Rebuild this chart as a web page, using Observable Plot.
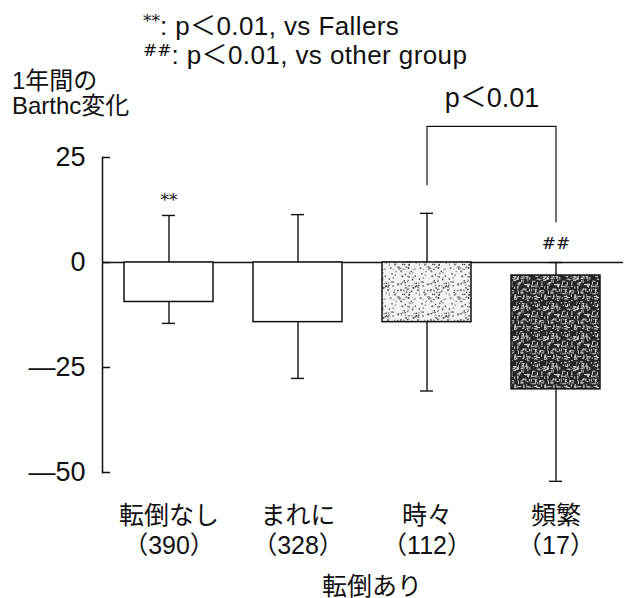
<!DOCTYPE html>
<html>
<head>
<meta charset="utf-8">
<script src="https://cdn.jsdelivr.net/npm/d3@7"></script>
<script src="https://cdn.jsdelivr.net/npm/@observablehq/plot@0.6"></script>
<style>
  html, body { margin: 0; padding: 0; background: #fff; }
  #wrap { position: relative; width: 633px; height: 598px; font-family: 'Liberation Sans', 'Noto Sans CJK JP', sans-serif; color: #111; }
  #wrap svg { position: absolute; left: 0; top: 0; }
  .note { position: absolute; left: 143px; font-size: 26px; white-space: nowrap; line-height: 28px; letter-spacing: 0.4px; }
  .note sup { font-size: 17px; vertical-align: 8px; letter-spacing: 0px; font-family: 'DejaVu Serif', serif; }
  #ylab { position: absolute; left: 12px; top: 68px; font-size: 24px; line-height: 25px; white-space: nowrap; }
</style>
</head>
<body>
<div id="wrap">
  <div class="note" style="top:7px"><sup>**</sup>: p＜0.01, vs Fallers</div>
  <div class="note" style="top:36px"><sup>##</sup>: p＜0.01, vs other group</div>
  <div id="ylab">1年間の<br>Barthc変化</div>
</div>
<script>
// ---- data ----
const categories = ["転倒なし", "まれに", "時々", "頻繁"];
const counts = [390, 328, 112, 17];
const barTop = [0, 0, 0, -3.1];                 // bar upper edge
const barBottom = [-9.4, -14.2, -14.2, -30.2];  // bar lower edge
const errHigh = [11.2, 11.4, 11.7, 0];
const errLow = [-14.5, -27.6, -30.6, -52.1];
const sigMarks = ["**", "", "", "##"];
const sigY = [14.8, null, null, 4.5];
const yTicks = [25, 0, -25, -50];
const yDomain = [-50, 25];
const bracketCats = ["時々", "頻繁"];
const bracketFrom = [18.3, 9.4];
const bracketTopY = 32.4;
const bracketText = "p＜0.01";
const bracketTextY = 39;
const xAxisTitle = "転倒あり";

// ---- styles (not data) ----
const fills = ["white", "white", "url(#stipple)", "url(#dense)"];

const rows = categories.map((c, i) => ({
  cat: c, n: counts[i], top: barTop[i], bottom: barBottom[i],
  hi: errHigh[i], lo: errLow[i], sig: sigMarks[i], sigY: sigY[i], fill: fills[i]
}));
const bracketRows = bracketCats.map((c, i) => ({cat: c, from: bracketFrom[i], to: bracketTopY}));

const W = 633, H = 598;
const margins = {marginTop: 157, marginBottom: 126, marginLeft: 102, marginRight: 10};
const xOpts = {domain: categories, paddingInner: 0.31, paddingOuter: 0.16};
const xs = Plot.scale({x: {...xOpts, type: "band", range: [margins.marginLeft, W - margins.marginRight]}});
const halfGap = (xs.apply(bracketCats[1]) - xs.apply(bracketCats[0])) / 2;

const plot = Plot.plot({
  width: W, height: H, ...margins,
  style: {fontFamily: "'Liberation Sans', 'Noto Sans CJK JP', sans-serif", background: "white", color: "#111"},
  x: {...xOpts, label: null},
  y: {domain: yDomain, label: null},
  color: {type: "identity"},
  marks: [
    Plot.frame({anchor: "left", strokeWidth: 1.5}),
    // inward tick marks
    Plot.axisY({ticks: yTicks, tickSize: 8, dx: 8, strokeWidth: 1.5, tickFormat: () => "", label: null}),
    // tick labels
    Plot.axisY({ticks: yTicks, tickSize: 0, tickPadding: 17, fontSize: 27,
      tickFormat: d => d < 0 ? "—" + Math.abs(d) : String(d), label: null}),
    Plot.axisX({tickSize: 0, tickPadding: 30, fontSize: 25, lineHeight: 1.2,
      tickFormat: (d) => d + "\n（" + counts[categories.indexOf(d)] + "）",
      label: xAxisTitle, labelAnchor: "center", labelArrow: "none", labelOffset: 122}),
    Plot.ruleX(rows, {x: "cat", y1: "lo", y2: "hi", strokeWidth: 1.4}),
    Plot.tickY(rows, {x: "cat", y: "hi", insetLeft: 38, insetRight: 38, strokeWidth: 1.4}),
    Plot.tickY(rows, {x: "cat", y: "lo", insetLeft: 38, insetRight: 38, strokeWidth: 1.4}),
    Plot.ruleY([0], {strokeWidth: 1.5}),
    Plot.barY(rows, {x: "cat", y1: "top", y2: "bottom", fill: "fill", stroke: "#111", strokeWidth: 1.5}),
    Plot.text(rows.filter(d => d.sig), {x: "cat", y: "sigY", text: "sig", fontSize: 17, fontFamily: "'DejaVu Serif', serif"}),
    Plot.ruleX(bracketRows, {x: "cat", y1: "from", y2: "to", strokeWidth: 1.2}),
    Plot.link([bracketTopY], {x1: () => bracketCats[0], x2: () => bracketCats[1], y1: d => d, y2: d => d, strokeWidth: 1.2}),
    Plot.text([bracketText], {x: () => bracketCats[0], y: () => bracketTextY, text: d => d, dx: halfGap, fontSize: 27})
  ]
});

// nudge the x-axis title slightly right, as in the reference (keep Plot's own transform)
const xl = plot.querySelector('[aria-label="x-axis label"]');
if (xl) xl.setAttribute("transform", "translate(9,0) " + (xl.getAttribute("transform") || ""));

// texture patterns (decoration only, deterministic hash)
const h = (i, k) => { const v = Math.sin(i * 12.9898 + k * 78.233) * 43758.5453; return v - Math.floor(v); };
let stip = "", dense = "";
for (let i = 0; i < 90; i++) {
  stip += `<rect x="${(h(i,1)*30).toFixed(1)}" y="${(h(i,2)*30).toFixed(1)}" width="1.4" height="1.4" fill="${h(i,3) > 0.5 ? '#444' : '#888'}"/>`;
}
for (let i = 0; i < 130; i++) {
  const x = (h(i,4)*30).toFixed(1), y = (h(i,5)*30).toFixed(1);
  const horiz = h(i,6) > 0.5;
  dense += `<rect x="${x}" y="${y}" width="${horiz ? (1 + h(i,7)*2.5).toFixed(1) : 1}" height="${horiz ? 1 : (1 + h(i,7)*2.5).toFixed(1)}" fill="#d0d0d0"/>`;
}
const defs = `<defs>
<pattern id="stipple" width="30" height="30" patternUnits="userSpaceOnUse"><rect width="30" height="30" fill="#f4f4f4"/>${stip}</pattern>
<pattern id="dense" width="30" height="30" patternUnits="userSpaceOnUse"><rect width="30" height="30" fill="#262626"/>${dense}</pattern>
</defs>`;
plot.insertAdjacentHTML("afterbegin", defs);
document.getElementById("wrap").prepend(plot);
</script>
</body>
</html>
